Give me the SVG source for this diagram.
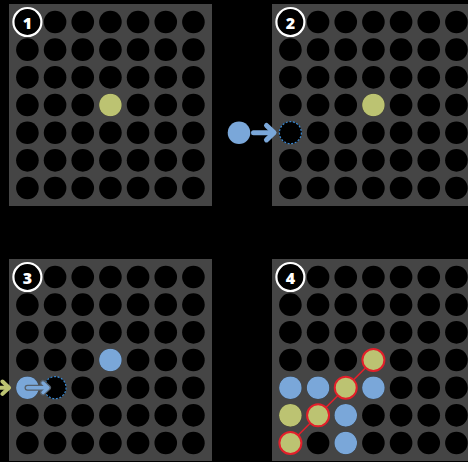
<svg xmlns="http://www.w3.org/2000/svg" xmlns:xlink="http://www.w3.org/1999/xlink" width="468" height="462" viewBox="0 0 468 462">
  <style>
    .panel { fill: #454545; }
    .hole { fill: #000; }
    .g { fill: #bcc372; }
    .b { fill: #7aa7d9; }
    .win { stroke: #e3202b; stroke-width: 2; }
    .badge { fill: #000; stroke: #fff; stroke-width: 2.2; }
    .num { fill: #fff; font-family: "Open Sans", "DejaVu Sans", sans-serif; font-weight: 800; font-size: 16px; text-anchor: middle; dominant-baseline: central; }
    .drop { fill: #000; stroke: #3a8ad4; stroke-width: 1.2; stroke-dasharray: 2 1.6; }
    .arr { fill: none; stroke-linecap: round; stroke-linejoin: round; }
  </style>
  <defs>
    <g id="row">
      <circle class="hole" cx="27.4" cy="0" r="11.3"/>
      <circle class="hole" cx="55.07" cy="0" r="11.3"/>
      <circle class="hole" cx="82.74" cy="0" r="11.3"/>
      <circle class="hole" cx="110.41" cy="0" r="11.3"/>
      <circle class="hole" cx="138.08" cy="0" r="11.3"/>
      <circle class="hole" cx="165.75" cy="0" r="11.3"/>
      <circle class="hole" cx="193.42" cy="0" r="11.3"/>
    </g>
    <g id="board">
      <rect class="panel" x="9" y="4" width="203" height="202"/>
      <use xlink:href="#row" href="#row" y="22"/>
      <use xlink:href="#row" href="#row" y="49.67"/>
      <use xlink:href="#row" href="#row" y="77.34"/>
      <use xlink:href="#row" href="#row" y="105.01"/>
      <use xlink:href="#row" href="#row" y="132.68"/>
      <use xlink:href="#row" href="#row" y="160.35"/>
      <use xlink:href="#row" href="#row" y="188.02"/>
    </g>
  </defs>
  <rect x="0" y="0" width="468" height="462" fill="#000"/>

  <g id="step1">
    <use xlink:href="#board" href="#board"/>
    <circle class="g" cx="110.41" cy="105.01" r="11.3"/>
    <circle class="badge" cx="27.4" cy="22" r="14"/>
    <text class="num" x="27.4" y="22.5">1</text>
  </g>

  <g id="step2">
    <use xlink:href="#board" href="#board" x="263"/>
    <circle class="g" cx="373.41" cy="105.01" r="11.3"/>
    <circle class="drop" cx="290.4" cy="132.68" r="11"/>
    <circle class="b" cx="239" cy="132.68" r="11.3"/>
    <g class="arr" stroke="#7aa7d9" stroke-width="5">
      <path d="M253.5 132.68 H273"/>
      <path d="M266.5 125.5 L274 132.68 L266.5 139.9"/>
    </g>
    <circle class="badge" cx="290.4" cy="22" r="14"/>
    <text class="num" x="290.4" y="22.5">2</text>
  </g>

  <g id="step3">
    <use xlink:href="#board" href="#board" y="255"/>
    <circle class="b" cx="110.41" cy="360.01" r="11.3"/>
    <circle class="drop" cx="55.07" cy="387.68" r="11"/>
    <circle class="b" cx="27.4" cy="387.68" r="11.3"/>
    <g class="arr" stroke="#55606c" stroke-width="6">
      <path d="M27.5 387.68 H47"/>
      <path d="M43 383 L48 387.68 L43 392.4"/>
    </g>
    <g class="arr" stroke="#7aa7d9" stroke-width="3.4">
      <path d="M27.5 387.68 H47"/>
      <path d="M43 383 L48 387.68 L43 392.4"/>
    </g>
    <g class="arr" stroke="#bcc372" stroke-width="4">
      <path d="M-2 387.68 H8"/>
      <path d="M2.5 381.5 L9 387.68 L2.5 393.9"/>
    </g>
    <circle class="badge" cx="27.4" cy="277" r="14"/>
    <text class="num" x="27.4" y="277.5">3</text>
  </g>

  <g id="step4">
    <use xlink:href="#board" href="#board" x="263" y="255"/>
    <line x1="290.4" y1="443.02" x2="373.41" y2="360.01" stroke="#e3202b" stroke-width="1.6"/>
    <circle class="b" cx="290.4" cy="387.68" r="11.3"/>
    <circle class="b" cx="318.07" cy="387.68" r="11.3"/>
    <circle class="b" cx="373.41" cy="387.68" r="11.3"/>
    <circle class="b" cx="345.74" cy="415.35" r="11.3"/>
    <circle class="b" cx="345.74" cy="443.02" r="11.3"/>
    <circle class="g" cx="290.4" cy="415.35" r="11.3"/>
    <circle class="g win" cx="373.41" cy="360.01" r="11"/>
    <circle class="g win" cx="345.74" cy="387.68" r="11"/>
    <circle class="g win" cx="318.07" cy="415.35" r="11"/>
    <circle class="g win" cx="290.4" cy="443.02" r="11"/>
    <circle class="badge" cx="290.4" cy="277" r="14"/>
    <text class="num" x="290.4" y="277.5">4</text>
  </g>
</svg>
